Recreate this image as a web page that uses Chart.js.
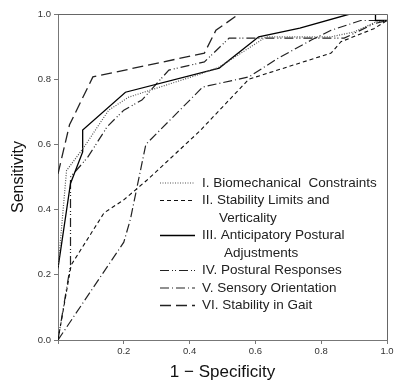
<!DOCTYPE html>
<html>
<head>
<meta charset="utf-8">
<script src="https://cdn.jsdelivr.net/npm/chart.js@4.4.0/dist/chart.umd.min.js"></script>
<style>
  html, body { margin: 0; padding: 0; background: #fff; }
  #wrap { width: 400px; height: 389px; }
</style>
</head>
<body>
<div id="wrap"><canvas id="roc" width="400" height="389"></canvas></div>
<script>
// ---------------- data ----------------
const tickLabels = ['0.0', '0.2', '0.4', '0.6', '0.8', '1.0']

const biomechanical = [[0,0.22],[0.026,0.52],[0.078,0.59],[0.154,0.705],[0.215,0.745],[0.43,0.815],[0.49,0.837],[0.633,0.93],[0.83,0.93],[0.9,0.945],[0.965,0.975],[1,0.98]]
const stabilityLimits = [[0,0],[0.04,0.23],[0.14,0.39],[0.2,0.43],[0.27,0.49],[0.43,0.64],[0.58,0.8],[0.83,0.88],[0.86,0.915],[0.96,0.955],[1,0.98]]
const anticipatory = [[0,0.22],[0.038,0.48],[0.075,0.577],[0.075,0.644],[0.205,0.76],[0.49,0.834],[0.61,0.93],[0.735,0.957],[0.887,1],[0.965,1],[0.965,0.98],[1,0.98]]
const posturalResp = [[0,0],[0.038,0.23],[0.038,0.5],[0.09,0.56],[0.15,0.655],[0.2,0.705],[0.255,0.736],[0.337,0.828],[0.445,0.853],[0.52,0.926],[0.87,0.926],[0.96,0.97],[1,0.98]]
const sensoryOrient = [[0,0],[0.2,0.3],[0.22,0.37],[0.267,0.6],[0.44,0.776],[0.58,0.807],[0.67,0.865],[0.77,0.92],[0.83,0.95],[0.89,0.97],[0.92,0.98],[0.965,0.98],[1,0.98]]
const gait = [[0,0.51],[0.035,0.66],[0.106,0.807],[0.445,0.88],[0.48,0.95],[0.55,1],[1,1]]

const legendLines = [
  ['I. Biomechanical  Constraints'],
  ['II. Stability Limits and', 'Verticality'],
  ['III. Anticipatory Postural', 'Adjustments'],
  ['IV. Postural Responses'],
  ['V. Sensory Orientation'],
  ['VI. Stability in Gait']
]

function pts(arr) {
  return arr.map(p => ({x: p[0], y: p[1]}))
}

let series = [biomechanical, stabilityLimits, anticipatory, posturalResp, sensoryOrient, gait]
let dashes = [[1,1.5], [4,3], [], [9,3,1,2,1,3], [9,3,1,3], [11,5]]
let colors = ['#555', '#111', '#000', '#222', '#222', '#222']
let widths = [1.2, 1.1, 1.3, 1.2, 1.2, 1.3]

let datasets = series.map((s, i) => ({
  label: legendLines[i][0],
  data: pts(s),
  borderColor: colors[i],
  borderWidth: widths[i],
  borderDash: dashes[i],
  pointRadius: 0,
  fill: false,
  tension: 0
}))

// frame on top/right + legend inside plot
const framePlugin = {
  id: 'frame',
  afterDraw(chart) {
    let c = chart.ctx
    let a = chart.chartArea
    c.save()
    c.strokeStyle = '#666'
    c.lineWidth = 1
    c.beginPath()
    c.moveTo(a.left, a.top + 0.5)
    c.lineTo(a.right + 0.5, a.top + 0.5)
    c.lineTo(a.right + 0.5, a.bottom)
    c.stroke()

    // legend
    let y = 183
    c.font = '13.5px "Liberation Sans", Arial, sans-serif'
    c.textBaseline = 'middle'
    c.fillStyle = '#222'
    legendLines.forEach((lines, i) => {
      c.strokeStyle = colors[i]
      c.lineWidth = widths[i]
      c.setLineDash(dashes[i])
      c.beginPath()
      c.moveTo(160, y)
      c.lineTo(195, y)
      c.stroke()
      c.setLineDash([])
      lines.forEach((t, j) => {
        let indent = j == 0 ? 0 : (i == 2 ? 22 : 17)
        c.fillText(t, 202 + indent, y)
        y += 17.5
      })
    })
    c.restore()
  }
}

const ctx = document.getElementById('roc').getContext('2d')
const rocChart = new Chart(ctx, {
  type: 'line',
  data: { datasets: datasets },
  options: {
    responsive: false,
    animation: false,
    layout: { padding: { top: 14, right: 13, left: 0, bottom: 0 } },
    plugins: {
      legend: { display: false },
      tooltip: { enabled: false }
    },
    scales: {
      x: {
        type: 'linear',
        min: 0, max: 1,
        afterFit(scale) { scale.height = 49 },
        ticks: {
          stepSize: 0.2,
          color: '#333',
          font: { size: 9.5, family: 'Liberation Sans, Arial, sans-serif' },
          padding: 2,
          callback: (v, i) => i == 0 ? '' : tickLabels[i]
        },
        grid: { display: true, drawOnChartArea: false, tickLength: 4, color: '#777' },
        border: { color: '#777', width: 1 },
        title: {
          display: true,
          text: '1 − Specificity',
          color: '#111',
          font: { size: 17, family: 'Liberation Sans, Arial, sans-serif' },
          padding: { top: 0, bottom: 6 }
        }
      },
      y: {
        type: 'linear',
        min: 0, max: 1,
        afterFit(scale) { scale.width = 58 },
        ticks: {
          stepSize: 0.2,
          color: '#333',
          font: { size: 9.5, family: 'Liberation Sans, Arial, sans-serif' },
          padding: 3,
          callback: (v, i) => tickLabels[i]
        },
        grid: { display: true, drawOnChartArea: false, tickLength: 4, color: '#777' },
        border: { color: '#777', width: 1 },
        title: {
          display: true,
          text: 'Sensitivity',
          color: '#111',
          font: { size: 16, family: 'Liberation Sans, Arial, sans-serif' },
          padding: { top: 9, bottom: 0 }
        }
      }
    }
  },
  plugins: [framePlugin]
})
</script>
</body>
</html>
